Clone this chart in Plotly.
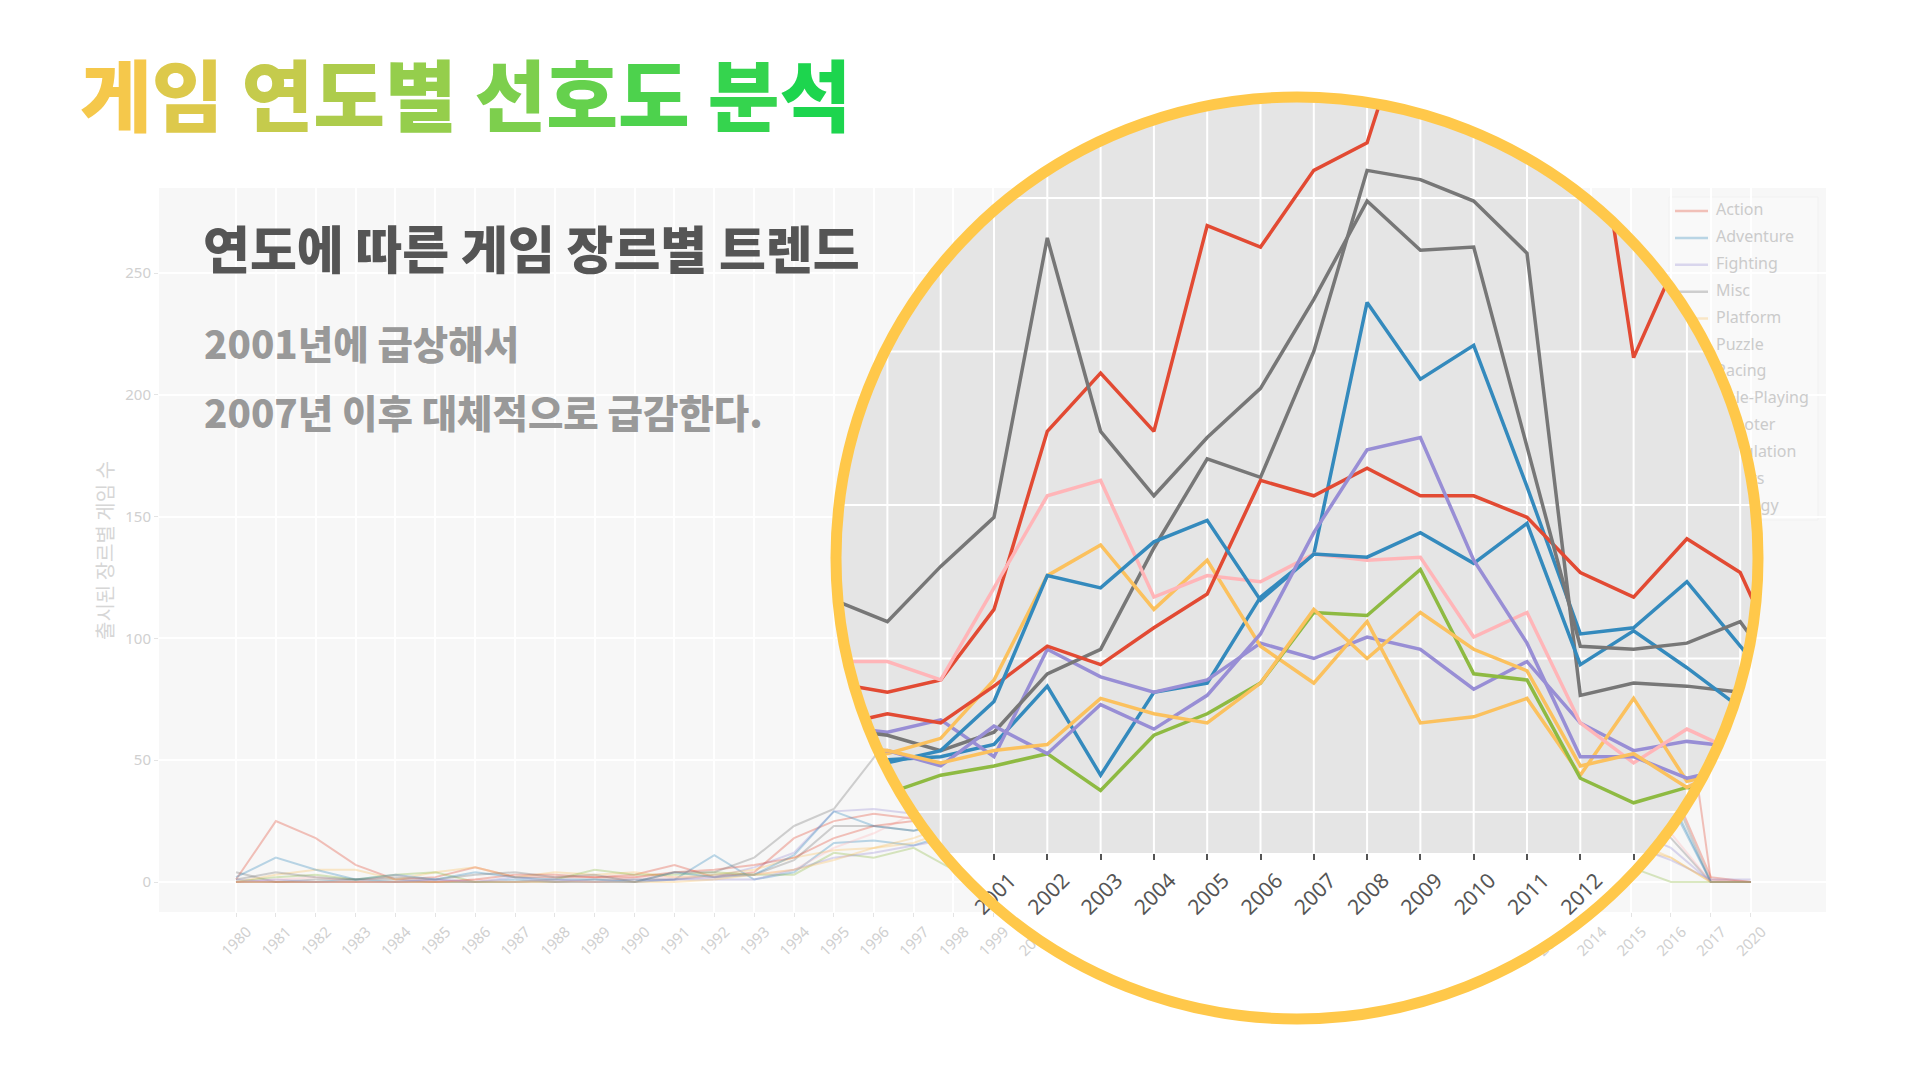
import numpy as np
import plotly.graph_objects as go

# ---- data: games released per genre and year ----
years = [1980, 1981, 1982, 1983, 1984, 1985, 1986, 1987, 1988, 1989, 1990,
         1991, 1992, 1993, 1994, 1995, 1996, 1997, 1998, 1999, 2000, 2001,
         2002, 2003, 2004, 2005, 2006, 2007, 2008, 2009, 2010, 2011, 2012,
         2013, 2014, 2015, 2016, 2017, 2020]
year_labels = [str(y) for y in years]

genres = ["Action", "Adventure", "Fighting", "Misc", "Platform", "Puzzle",
          "Racing", "Role-Playing", "Shooter", "Simulation", "Sports", "Strategy"]
colors = ["#E24A33", "#348ABD", "#988ED5", "#777777", "#FBC15E", "#8EBA42",
          "#FFB5B8", "#E24A33", "#348ABD", "#988ED5", "#777777", "#FBC15E"]

action = [1, 25, 18, 7, 1, 2, 6, 2, 2, 2, 3, 7, 2, 4, 18, 25, 28, 26, 42, 39, 43, 66,
          124, 143, 124, 191, 184, 209, 218, 272, 226, 239, 262, 148, 187, 255, 119, 1, 0]
adventure = [0, 0, 0, 1, 0, 0, 0, 1, 0, 0, 0, 1, 11, 1, 4, 16, 17, 15, 20, 17, 18, 22,
             41, 12, 39, 42, 70, 84, 166, 141, 152, 106, 58, 60, 75, 54, 34, 0, 0]
fighting = [1, 0, 0, 0, 0, 1, 0, 2, 0, 0, 1, 1, 2, 6, 12, 29, 30, 28, 28, 26, 30, 18,
            53, 44, 39, 43, 55, 50, 57, 53, 40, 49, 29, 20, 23, 21, 14, 0, 0]
misc = [4, 0, 1, 1, 1, 0, 0, 0, 0, 1, 1, 1, 3, 3, 9, 23, 23, 21, 27, 25, 20, 26,
        45, 53, 86, 115, 109, 150, 209, 206, 199, 182, 38, 42, 41, 39, 18, 0, 0]
platform = [0, 3, 5, 5, 1, 4, 6, 2, 4, 3, 4, 2, 3, 5, 10, 13, 14, 18, 24, 19, 24, 43,
            77, 87, 66, 82, 54, 42, 62, 29, 31, 37, 12, 37, 10, 14, 10, 0, 0]
puzzle = [0, 2, 3, 1, 3, 4, 0, 0, 1, 5, 3, 3, 4, 3, 3, 12, 10, 14, 5, 6, 12, 15,
          19, 7, 25, 32, 42, 65, 64, 79, 45, 43, 11, 3, 8, 6, 0, 0, 0]
racing = [0, 1, 2, 0, 3, 0, 1, 0, 1, 0, 2, 2, 2, 3, 5, 14, 20, 28, 49, 49, 43, 73,
          103, 108, 70, 77, 75, 84, 82, 83, 57, 65, 29, 16, 27, 19, 20, 0, 0]
role_playing = [0, 0, 0, 0, 0, 0, 1, 3, 3, 2, 2, 4, 5, 7, 10, 18, 23, 25, 28, 32, 29, 41,
                54, 48, 60, 71, 108, 103, 112, 103, 103, 96, 78, 70, 89, 78, 40, 2, 0]
shooter = [2, 10, 5, 1, 3, 1, 4, 2, 1, 1, 0, 4, 2, 3, 11, 29, 23, 21, 24, 16, 20, 36,
           77, 73, 88, 95, 69, 84, 83, 91, 81, 94, 48, 59, 47, 34, 32, 0, 0]
simulation = [0, 1, 0, 0, 0, 1, 0, 0, 1, 0, 0, 1, 1, 1, 5, 10, 12, 15, 18, 20, 15, 28,
              19, 35, 27, 38, 58, 91, 118, 122, 82, 55, 18, 18, 11, 15, 9, 1, 1]
sports = [1, 4, 2, 1, 2, 1, 3, 4, 2, 3, 0, 4, 4, 10, 23, 30, 51, 78, 69, 62, 80, 96,
          187, 124, 103, 122, 138, 167, 199, 183, 184, 119, 54, 53, 55, 62, 38, 0, 0]
strategy = [0, 0, 0, 0, 0, 0, 0, 0, 0, 0, 0, 0, 1, 3, 5, 9, 14, 16, 22, 20, 16, 20,
            22, 37, 32, 29, 42, 66, 50, 65, 53, 46, 15, 19, 8, 17, 10, 0, 0]

counts = [action, adventure, fighting, misc, platform, puzzle, racing,
          role_playing, shooter, simulation, sports, strategy]

W, H = 1920, 1080

# background chart area (pixels)
BG_L, BG_R, BG_T, BG_B = 159, 1826, 188, 912
BG_ZERO, BG_UNIT = 882, 2.436
BG_X0, BG_STEP = 236, 39.86

# magnifier geometry (pixels)
CX, CY = 1297, 558
R_RING, R_CLIP = 461, 457
I0 = years.index(2001)
X0_PX, X_STEP = 994, 53.3
Y0_PX, Y_STEP = 812, 3.07
INSET_BOT = 853
IN_L, IN_R, IN_T, IN_B = CX - 464, CX + 464, CY - 464, CY + 464


def ix_to_px(i):
    return X0_PX + (i - I0) * X_STEP


def px_to_ix(p):
    return I0 + (p - X0_PX) / X_STEP


def v_to_py(v):
    return Y0_PX - v * Y_STEP


def py_to_v(p):
    return (Y0_PX - p) / Y_STEP


def clip_to_circle(vals, r):
    pts = [(ix_to_px(i), v_to_py(v)) for i, v in enumerate(vals)]
    ox, oy = [], []
    last = None
    for (x0, y0), (x1, y1) in zip(pts[:-1], pts[1:]):
        dx, dy = x1 - x0, y1 - y0
        fx, fy = x0 - CX, y0 - CY
        a = dx * dx + dy * dy
        b = 2 * (fx * dx + fy * dy)
        c = fx * fx + fy * fy - r * r
        disc = b * b - 4 * a * c
        if a == 0 or disc <= 0:
            continue
        s = disc ** 0.5
        t0 = max(0.0, (-b - s) / (2 * a))
        t1 = min(1.0, (-b + s) / (2 * a))
        if t0 >= t1:
            continue
        p0 = (x0 + t0 * dx, y0 + t0 * dy)
        p1 = (x0 + t1 * dx, y0 + t1 * dy)
        if last is None or abs(last[0] - p0[0]) > 1e-6 or abs(last[1] - p0[1]) > 1e-6:
            if ox:
                ox.append(None)
                oy.append(None)
            ox.append(p0[0])
            oy.append(p0[1])
        ox.append(p1[0])
        oy.append(p1[1])
        last = p1
    return ([None if p is None else px_to_ix(p) for p in ox],
            [None if p is None else py_to_v(p) for p in oy])


fig = go.Figure()

# faded full chart
for name, vals, col in zip(genres, counts, colors):
    fig.add_trace(go.Scatter(x=year_labels, y=vals, mode="lines", name=name,
                             line=dict(color=col, width=2), opacity=0.32,
                             hoverinfo="skip", showlegend=False,
                             xaxis="x", yaxis="y"))

# faded legend, drawn as traces so the magnifier can cover it
LEG_Y0, LEG_DY = 211, 26.9
for k, (name, col) in enumerate(zip(genres, colors)):
    fig.add_trace(go.Scatter(x=[1675, 1708], y=[LEG_Y0 + LEG_DY * k] * 2, mode="lines",
                             line=dict(color=col, width=2.5), opacity=0.32,
                             hoverinfo="skip", showlegend=False,
                             xaxis="x2", yaxis="y2"))
fig.add_trace(go.Scatter(x=[1716] * len(genres), y=[LEG_Y0 + LEG_DY * k for k in range(len(genres))],
                         mode="text", text=genres, textposition="middle right",
                         textfont=dict(family="Noto Sans", size=16, color="#CBCBCB"),
                         hoverinfo="skip", showlegend=False, xaxis="x2", yaxis="y2"))

# magnifier: white disc, gray plot area, grid, clipped lines
theta = np.linspace(0, 2 * np.pi, 721)
disc_x = CX + R_RING * np.cos(theta)
disc_y = CY + R_RING * np.sin(theta)
fig.add_trace(go.Scatter(x=[px_to_ix(p) for p in disc_x], y=[py_to_v(p) for p in disc_y],
                         mode="lines", fill="toself", fillcolor="white",
                         line=dict(width=0, color="white"), hoverinfo="skip",
                         showlegend=False, xaxis="x3", yaxis="y3"))
fig.add_trace(go.Scatter(x=[px_to_ix(p) for p in disc_x],
                         y=[py_to_v(min(p, INSET_BOT)) for p in disc_y],
                         mode="lines", fill="toself", fillcolor="#E5E5E5",
                         line=dict(width=0, color="#E5E5E5"), hoverinfo="skip",
                         showlegend=False, xaxis="x3", yaxis="y3"))

gx, gy = [], []
for i in range(len(years)):
    p = ix_to_px(i)
    if abs(p - CX) < R_CLIP:
        d = (R_CLIP ** 2 - (p - CX) ** 2) ** 0.5
        top, bot = CY - d, min(CY + d, INSET_BOT)
        if top < bot:
            gx += [i, i, None]
            gy += [py_to_v(top), py_to_v(bot), None]
for v in range(0, 300, 50):
    p = v_to_py(v)
    if p < INSET_BOT and abs(p - CY) < R_CLIP:
        d = (R_CLIP ** 2 - (p - CY) ** 2) ** 0.5
        gx += [px_to_ix(CX - d), px_to_ix(CX + d), None]
        gy += [v, v, None]
fig.add_trace(go.Scatter(x=gx, y=gy, mode="lines", line=dict(color="white", width=2),
                         hoverinfo="skip", showlegend=False, xaxis="x3", yaxis="y3"))

for name, vals, col in zip(genres, counts, colors):
    cx_, cy_ = clip_to_circle(vals, R_CLIP)
    fig.add_trace(go.Scatter(x=cx_, y=cy_, mode="lines", name=name,
                             line=dict(color=col, width=3.5), connectgaps=False,
                             showlegend=False, xaxis="x3", yaxis="y3"))

inset_ticks = [years.index(y) for y in range(2001, 2014)]
inset_text = [str(y) if y <= 2012 else "" for y in range(2001, 2014)]

faint = "#D0D0D0"
fig.update_layout(
    width=W, height=H,
    margin=dict(l=0, r=0, t=0, b=0),
    paper_bgcolor="white",
    plot_bgcolor="rgba(0,0,0,0)",
    showlegend=False,
    xaxis=dict(domain=[BG_L / W, BG_R / W], type="category",
               range=[-(BG_X0 - BG_L) / BG_STEP, (BG_R - BG_X0) / BG_STEP],
               tickmode="array", tickvals=year_labels, ticktext=year_labels,
               tickangle=-45, ticklabelshift=11,
               tickfont=dict(family="Noto Sans", size=15, color=faint),
               ticks="outside", ticklen=4, tickcolor="#E4E4E4",
               showgrid=True, gridcolor="white", gridwidth=1.5,
               zeroline=False, showline=False, anchor="y"),
    yaxis=dict(domain=[1 - BG_B / H, 1 - BG_T / H],
               range=[-(BG_B - BG_ZERO) / BG_UNIT, (BG_ZERO - BG_T) / BG_UNIT],
               tickvals=[0, 50, 100, 150, 200, 250],
               tickfont=dict(family="Noto Sans", size=15, color=faint),
               ticks="outside", ticklen=4, tickcolor="#E4E4E4",
               showgrid=True, gridcolor="white", gridwidth=1.5,
               zeroline=False, showline=False, anchor="x"),
    xaxis2=dict(domain=[1660 / W, 1830 / W], range=[1660, 1830], visible=False, anchor="y2"),
    yaxis2=dict(domain=[1 - 530 / H, 1 - 190 / H], range=[530, 190], visible=False, anchor="x2"),
    xaxis3=dict(domain=[IN_L / W, IN_R / W], range=[px_to_ix(IN_L), px_to_ix(IN_R)],
                anchor="free", position=1 - INSET_BOT / H,
                tickmode="array", tickvals=inset_ticks, ticktext=inset_text,
                tickangle=-45, ticklabelshift=16,
                tickfont=dict(family="Noto Sans", size=21, color="#555555"),
                ticks="outside", ticklen=6, tickwidth=1.5, tickcolor="#555555",
                showgrid=False, zeroline=False, showline=False),
    yaxis3=dict(domain=[1 - IN_B / H, 1 - IN_T / H], range=[py_to_v(IN_B), py_to_v(IN_T)],
                visible=False, anchor="x3"),
)

# plot area and legend box of the faded chart
fig.add_shape(type="rect", xref="paper", yref="paper", layer="below",
              x0=BG_L / W, x1=BG_R / W, y0=1 - BG_B / H, y1=1 - BG_T / H,
              fillcolor="#F7F7F7", line=dict(width=0))
fig.add_shape(type="rect", xref="paper", yref="paper", layer="below",
              x0=1669 / W, x1=1818 / W, y0=1 - 520 / H, y1=1 - 197 / H,
              fillcolor="#F9F9F9", line=dict(width=1, color="#F1F1F1"))

# magnifier ring
fig.add_shape(type="circle", xref="paper", yref="paper", layer="above",
              x0=(CX - R_RING) / W, x1=(CX + R_RING) / W,
              y0=1 - (CY + R_RING) / H, y1=1 - (CY - R_RING) / H,
              line=dict(color="#FFC84A", width=11))

# title with a yellow-to-green gradient
title = "게임 연도별 선호도 분석"
c0, c1 = np.array([245, 200, 75]), np.array([29, 213, 78])
chars = [ch for ch in title if ch != " "]
parts, k = [], 0
for ch in title:
    if ch == " ":
        parts.append(" ")
        continue
    t = k / (len(chars) - 1)
    r, g, b = (c0 + (c1 - c0) * t).round().astype(int)
    parts.append(f'<span style="color:rgb({r},{g},{b})">{ch}</span>')
    k += 1

kr = "Noto Sans CJK KR"
fig.add_annotation(text="".join(parts), xref="paper", yref="paper", x=78 / W, y=1 - 92 / H,
                   xanchor="left", yanchor="middle", showarrow=False,
                   font=dict(family=kr, size=78, weight=900))
fig.add_annotation(text="연도에 따른 게임 장르별 트렌드", xref="paper", yref="paper",
                   x=201 / W, y=1 - 247 / H, xanchor="left", yanchor="middle", showarrow=False,
                   font=dict(family=kr, size=51, color="#555555", weight=900))
fig.add_annotation(text="2001년에 급상해서", xref="paper", yref="paper",
                   x=202 / W, y=1 - 342 / H, xanchor="left", yanchor="middle", showarrow=False,
                   font=dict(family=kr, size=38.5, color="#999999", weight=900))
fig.add_annotation(text="2007년 이후 대체적으로 급감한다.", xref="paper", yref="paper",
                   x=202 / W, y=1 - 411 / H, xanchor="left", yanchor="middle", showarrow=False,
                   font=dict(family=kr, size=38.5, color="#999999", weight=900))
fig.add_annotation(text="출시된 장르별 게임 수", xref="paper", yref="paper",
                   x=104 / W, y=1 - 551 / H, xanchor="center", yanchor="middle",
                   textangle=-90, showarrow=False,
                   font=dict(family=kr, size=20, color="#D6D6D6"))

fig.write_html("out.html", config={"displayModeBar": False},
               post_script="document.body.style.margin='0';")
